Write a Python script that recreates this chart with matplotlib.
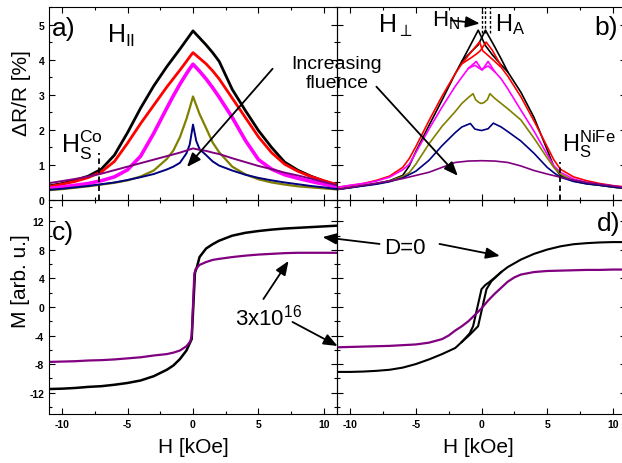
import matplotlib
matplotlib.use("Agg")
import matplotlib.pyplot as plt
from matplotlib.ticker import MultipleLocator

plt.rcParams["font.family"] = ["Liberation Sans", "DejaVu Sans"]
plt.rcParams["mathtext.fontset"] = "custom"
plt.rcParams["mathtext.rm"] = "Liberation Sans"
plt.rcParams["mathtext.it"] = "Liberation Sans:italic"
plt.rcParams["mathtext.bf"] = "Liberation Sans:bold"
plt.rcParams["axes.unicode_minus"] = False
plt.rcParams["lines.solid_joinstyle"] = "round"

# --- colours (Origin defaults) ---
BLACK, RED, MAGENTA = "#000000", "#ff0000", "#ff00ff"
OLIVE, NAVY, PURPLE = "#808000", "#000080", "#800080"

# --- a) MR, field parallel ---
xa = [-11, -10, -9, -8, -7, -6, -5, -4, -3, -2, -1.5, -1, -0.5, -0.25, 0,
      0.25, 0.5, 1, 1.5, 2, 3, 4, 5, 6, 7, 8, 9, 10, 11]
a_black = [0.40, 0.47, 0.56, 0.68, 0.88, 1.28, 1.92, 2.62, 3.25, 3.80, 4.05, 4.30, 4.56, 4.69, 4.82,
           4.72, 4.62, 4.42, 4.20, 3.95, 3.15, 2.55, 1.98, 1.50, 1.08, 0.85, 0.68, 0.54, 0.42]
a_red = [0.38, 0.45, 0.53, 0.64, 0.80, 1.10, 1.62, 2.18, 2.70, 3.22, 3.46, 3.70, 3.95, 4.08, 4.20,
         4.12, 4.04, 3.88, 3.68, 3.45, 2.90, 2.35, 1.80, 1.35, 1.02, 0.82, 0.67, 0.55, 0.44]
a_magenta = [0.33, 0.37, 0.42, 0.47, 0.55, 0.66, 0.86, 1.25, 1.90, 2.62, 2.97, 3.30, 3.60, 3.74, 3.87,
             3.77, 3.67, 3.45, 3.20, 2.93, 2.35, 1.70, 1.15, 0.88, 0.72, 0.62, 0.53, 0.45, 0.37]
a_olive = [0.28, 0.31, 0.35, 0.39, 0.44, 0.49, 0.56, 0.67, 0.84, 1.17, 1.41, 1.79, 2.31, 2.62, 2.95,
           2.70, 2.45, 2.05, 1.64, 1.36, 0.95, 0.73, 0.59, 0.50, 0.44, 0.39, 0.36, 0.33, 0.30]
a_navy = [0.29, 0.32, 0.36, 0.40, 0.45, 0.50, 0.57, 0.65, 0.74, 0.87, 0.95, 1.06, 1.33, 1.58, 2.15,
          1.68, 1.45, 1.28, 1.10, 0.98, 0.84, 0.72, 0.63, 0.56, 0.50, 0.45, 0.40, 0.36, 0.31]
a_purple = [0.48, 0.54, 0.60, 0.67, 0.75, 0.85, 0.95, 1.05, 1.15, 1.25, 1.30, 1.35, 1.41, 1.44, 1.47,
            1.45, 1.43, 1.40, 1.35, 1.31, 1.19, 1.08, 0.97, 0.88, 0.78, 0.70, 0.61, 0.51, 0.42]

# --- b) MR, field perpendicular (second sweep given only where it differs) ---
b_black_x = [-11, -10, -9, -8, -7, -6, -5.5, -5, -4, -3, -2, -1.5, -1, -0.25, 0.3, 0.8, 1.5, 2,
             3, 4, 5, 5.5, 6, 7, 8, 9, 10, 11]
b_black = [0.30, 0.35, 0.41, 0.47, 0.55, 0.70, 0.97, 1.38, 2.12, 2.85, 3.60, 3.95, 4.30, 4.84, 4.40, 4.15, 3.85, 3.65,
           3.07, 2.35, 1.43, 0.96, 0.70, 0.54, 0.47, 0.42, 0.37, 0.32]
b_black2_x = [-1.5, -0.8, -0.25, 0.3, 1, 1.5, 2]
b_black2 = [3.95, 4.22, 4.42, 4.84, 4.37, 4.02, 3.65]

b_red_x = [-11, -10, -9, -8, -7, -6, -5.5, -5, -4, -3, -2, -1.5, -1, -0.5, -0.15, 0.1, 0.35, 0.8,
           1.5, 2, 3, 4, 5, 5.5, 6, 7, 8, 9, 10, 11]
b_red = [0.36, 0.41, 0.47, 0.56, 0.68, 0.93, 1.18, 1.52, 2.26, 2.96, 3.60, 3.88, 4.12, 4.35, 4.50, 4.25, 4.17, 4.02,
         3.78, 3.53, 2.94, 2.25, 1.52, 1.15, 0.88, 0.66, 0.55, 0.47, 0.41, 0.37]
b_red2_x = [-1.5, -0.8, -0.35, -0.1, 0.35, 0.8, 1.5]
b_red2 = [3.88, 4.05, 4.17, 4.25, 4.50, 4.28, 3.82]

b_magenta_x = [-11, -10, -9, -8, -7, -6, -5.5, -5, -4, -3, -2, -1.5, -1, -0.4, 0, 0.5, 1, 1.5,
               2, 3, 4, 5, 5.5, 6, 7, 8, 9, 10, 11]
b_magenta = [0.36, 0.42, 0.47, 0.54, 0.65, 0.86, 1.02, 1.35, 2.02, 2.65, 3.24, 3.50, 3.75, 3.95, 3.72, 3.82, 3.66, 3.45,
             3.17, 2.56, 1.96, 1.30, 0.98, 0.79, 0.60, 0.50, 0.44, 0.40, 0.35]
b_magenta2_x = [-1, -0.5, 0.05, 0.5, 1]
b_magenta2 = [3.75, 3.84, 3.70, 3.95, 3.66]

b_olive_x = [-11, -10, -9, -8, -7, -6, -5.5, -5, -4, -3, -2, -1.5, -1, -0.64, -0.45, -0.2, 0,
             0.2, 0.45, 0.64, 1, 1.5, 2, 3, 4, 5, 5.5, 6, 7, 8, 9, 10, 11]
b_olive = [0.30, 0.36, 0.41, 0.46, 0.54, 0.67, 0.78, 1.02, 1.60, 2.10, 2.52, 2.75, 2.92, 3.03, 2.86, 2.78, 2.75,
           2.78, 2.86, 3.03, 2.90, 2.75, 2.60, 2.28, 1.76, 1.20, 0.93, 0.74, 0.55, 0.46, 0.42, 0.37, 0.32]

b_navy_x = [-11, -10, -9, -8, -7, -6, -5, -4, -3, -2, -1.5, -0.85, -0.5, 0, 0.5, 0.9, 1.5, 2,
            3, 4, 5, 5.5, 6, 7, 8, 9, 10, 11]
b_navy = [0.30, 0.35, 0.40, 0.45, 0.52, 0.63, 0.82, 1.13, 1.55, 1.92, 2.08, 2.18, 2.02, 1.98, 2.03, 2.19, 2.08, 1.95,
          1.68, 1.33, 0.93, 0.78, 0.65, 0.53, 0.46, 0.42, 0.37, 0.33]

b_purple_x = [-11, -10, -9, -8, -7, -6, -5, -4, -3, -2, -1, 0, 1, 2, 3, 4, 5, 6, 7, 8, 9, 10, 11]
b_purple = [0.30, 0.36, 0.42, 0.48, 0.54, 0.61, 0.70, 0.79, 0.93, 1.07, 1.11, 1.12, 1.11, 1.07, 0.97, 0.84, 0.74,
            0.65, 0.57, 0.50, 0.45, 0.40, 0.35]

# --- c) M(H), field parallel ---
c_x = [-11, -10, -9, -8, -7, -6, -5, -4, -3, -2, -1.5, -1, -0.5, -0.2, -0.1, 0.15, 0.3, 0.5,
       1, 1.5, 2, 3, 4, 5, 6, 7, 8, 9, 10, 11]
c_black = [-11.5, -11.45, -11.35, -11.2, -11.1, -10.9, -10.65, -10.3, -9.7, -8.8, -8.2, -7.3, -6.1, -4.9, -4.5,
           4.8, 5.6, 7.0, 8.2, 8.8, 9.3, 10.0, 10.4, 10.65, 10.85, 11.0, 11.1, 11.2, 11.3, 11.4]
c_purple_x = [-11, -10, -9, -8, -7, -6, -5, -4, -3, -2, -1.5, -1, -0.5, -0.2, -0.1, 0.1, 0.2, 0.5,
              1, 1.5, 2, 3, 4, 5, 6, 7, 8, 9, 10, 11]
c_purple = [-7.7, -7.65, -7.6, -7.5, -7.45, -7.35, -7.2, -7.05, -6.8, -6.6, -6.4, -6.1, -5.5, -4.8, -4.0,
            4.6, 5.3, 5.9, 6.3, 6.6, 6.75, 7.0, 7.2, 7.35, 7.45, 7.55, 7.6, 7.6, 7.6, 7.6]

# --- d) M(H), field perpendicular ---
d_black_x = [-11, -10, -9, -8, -7, -6, -5, -4, -3, -2, -1.5, -0.9, -0.64, 0, 0.3, 0.6, 1, 1.5,
             2, 3, 4, 5, 6, 7, 8, 9, 10, 11]
d_black = [-9.1, -9.1, -9.05, -8.95, -8.8, -8.5, -8.0, -7.35, -6.6, -5.75, -4.9, -3.7, -2.7, 2.5, 3.1, 3.5, 4.1, 4.9,
           5.6, 6.65, 7.45, 8.05, 8.5, 8.8, 8.95, 9.05, 9.1, 9.1]
d_black2_x = [-1.5, -0.9, -0.26, 0.38, 0.75, 1.5]
d_black2 = [-4.9, -3.9, -2.7, 2.5, 3.6, 4.9]
d_purple_x = [-11, -10, -9, -8, -7, -6, -5, -4, -3, -2.5, -2, -1.5, -1, -0.5, 0, 0.5, 1, 1.5,
              2, 2.5, 3, 4, 5, 6, 7, 8, 9, 10, 11]
d_purple = [-5.65, -5.6, -5.55, -5.5, -5.45, -5.35, -5.25, -5.0, -4.5, -4.0, -3.3, -2.7, -2.0, -1.1, -0.2, 0.9,
            1.85, 2.7, 3.55, 4.15, 4.55, 4.9, 5.05, 5.1, 5.15, 5.2, 5.2, 5.25, 5.25]

# saturation / switching fields marked with dashed lines
HS_CO, HS_NIFE = -7.15, 5.98
HN_LINES, HA_LINE = [0.0, 0.25], 0.63

W, H = 622, 464
fig = plt.figure(figsize=(W / 100, H / 100), dpi=100)
fig.patch.set_facecolor("white")


def add_axes_px(x0, y0, x1, y1):
    ax = fig.add_axes([x0 / W, 1 - y1 / H, (x1 - x0) / W, (y1 - y0) / H])
    ax.patch.set_visible(False)
    return ax


ax_a = add_axes_px(49, 8, 337, 201)
ax_b = add_axes_px(337, 8, 626, 201)
ax_c = add_axes_px(49, 201, 337, 415)
ax_d = add_axes_px(337, 201, 626, 415)

# a)
ax_a.plot(xa, a_black, color=BLACK, lw=2.0)
ax_a.plot(xa, a_red, color=RED, lw=2.0)
ax_a.plot(xa, a_magenta, color=MAGENTA, lw=2.6)
ax_a.plot(xa, a_olive, color=OLIVE, lw=1.6)
ax_a.plot(xa, a_navy, color=NAVY, lw=1.4)
ax_a.plot(xa, a_purple, color=PURPLE, lw=1.4)
ax_a.plot([HS_CO, HS_CO], [0, 1.35], color="k", lw=1.3, ls=(0, (3, 2)))

# b)
lw_b = 1.2
ax_b.plot(b_black_x, b_black, color=BLACK, lw=lw_b)
ax_b.plot(b_black2_x, b_black2, color=BLACK, lw=lw_b)
ax_b.plot(b_red_x, b_red, color=RED, lw=lw_b)
ax_b.plot(b_red2_x, b_red2, color=RED, lw=lw_b)
ax_b.plot(b_magenta_x, b_magenta, color=MAGENTA, lw=lw_b)
ax_b.plot(b_magenta2_x, b_magenta2, color=MAGENTA, lw=lw_b)
ax_b.plot(b_olive_x, b_olive, color=OLIVE, lw=lw_b)
ax_b.plot(b_navy_x, b_navy, color=NAVY, lw=lw_b)
ax_b.plot(b_purple_x, b_purple, color=PURPLE, lw=lw_b)
ax_b.plot([HS_NIFE, HS_NIFE], [0, 1.08], color="k", lw=1.3, ls=(0, (3, 2)))
for xv in HN_LINES + [HA_LINE]:
    ax_b.plot([xv, xv], [4.75, 5.5], color="k", lw=1.0, ls=(0, (2, 1.5)))

# c)
ax_c.plot(c_x, c_black, color=BLACK, lw=1.8)
ax_c.plot(c_purple_x, c_purple, color=PURPLE, lw=1.6)

# d)
ax_d.plot(d_black_x, d_black, color=BLACK, lw=1.5)
ax_d.plot(d_black2_x, d_black2, color=BLACK, lw=1.5)
ax_d.plot(d_purple_x, d_purple, color=PURPLE, lw=1.6)

# --- axes styling ---
for ax in (ax_a, ax_b, ax_c, ax_d):
    ax.set_xlim(-11, 11)
    ax.xaxis.set_major_locator(MultipleLocator(5))
    ax.xaxis.set_minor_locator(MultipleLocator(2.5))
    ax.tick_params(which="both", direction="in", top=True, right=True,
                   labelsize=7.5, width=0.8)
    ax.tick_params(which="major", length=4)
    ax.tick_params(which="minor", length=2.5)
    for sp in ax.spines.values():
        sp.set_linewidth(0.8)

for ax in (ax_a, ax_b):
    ax.set_ylim(0, 5.5)
    ax.yaxis.set_major_locator(MultipleLocator(1))
    ax.yaxis.set_minor_locator(MultipleLocator(0.5))
    ax.tick_params(labelbottom=False)

for ax in (ax_c, ax_d):
    ax.set_ylim(-15, 15)
    ax.yaxis.set_major_locator(MultipleLocator(4))
    ax.yaxis.set_minor_locator(MultipleLocator(2))

for ax in (ax_b, ax_d):
    ax.tick_params(labelleft=False)

for ax in (ax_a, ax_b, ax_c, ax_d):
    plt.setp(ax.get_xticklabels() + ax.get_yticklabels(), fontweight="bold")

ax_a.set_ylabel("ΔR/R [%]", fontsize=15, va="center")
ax_a.yaxis.set_label_coords(-0.094, 0.557)
ax_c.set_ylabel("M [arb. u.]", fontsize=15, va="center")
ax_c.yaxis.set_label_coords(-0.10, 0.626)
ax_c.set_xlabel("H [kOe]", fontsize=15, va="center")
ax_c.xaxis.set_label_coords(0.5, -0.15)
ax_d.set_xlabel("H [kOe]", fontsize=15, va="center")
ax_d.xaxis.set_label_coords(0.49, -0.15)

# --- labels and annotations ---
ax_a.text(-10.77, 4.89, "a)", fontsize=19, ha="left", va="center")
ax_a.text(-6.6, 4.51, r"$\mathrm{H}_{\mathrm{II}}$", fontsize=18, ha="left", va="baseline")
ax_a.text(-10.1, 1.37, r"$\mathrm{H}_{\mathrm{S}}^{\mathrm{Co}}$", fontsize=18, ha="left", va="baseline")
fig.text(337 / W, 1 - 74 / H, "Increasing\nfluence", fontsize=14, ha="center", va="center",
         linespacing=1.1)

ax_b.text(10.34, 4.94, "b)", fontsize=19, ha="right", va="center")
ax_b.text(-7.9, 4.8, r"$\mathrm{H}_{\perp}$", fontsize=18, ha="left", va="baseline")
ax_b.text(-3.8, 4.97, r"$\mathrm{H}_{\mathrm{N}}$", fontsize=16, ha="left", va="baseline")
ax_b.text(1.0, 4.83, r"$\mathrm{H}_{\mathrm{A}}$", fontsize=17, ha="left", va="baseline")
ax_b.text(6.1, 1.41, r"$\mathrm{H}_{\mathrm{S}}^{\mathrm{NiFe}}$", fontsize=17, ha="left", va="baseline")

ax_c.text(-10.77, 10.5, "c)", fontsize=19, ha="left", va="center")
ax_d.text(10.56, 11.8, "d)", fontsize=19, ha="right", va="center")
ax_c.text(5.77, -1.4, r"3x10$^{16}$", fontsize=16, ha="center", va="center")
ax_d.text(-5.8, 8.4, "D=0", fontsize=16, ha="center", va="center")

arrow = dict(arrowstyle="-|>,head_length=0.7,head_width=0.28", color="k", lw=1.3,
             mutation_scale=12, shrinkA=0, shrinkB=0)

ax_a.annotate("", xy=(-0.46, 0.94), xytext=(6.08, 3.74), arrowprops=arrow)
ax_b.annotate("", xy=(-1.8, 0.69), xytext=(-8.0, 3.23), arrowprops=arrow)
ax_b.annotate("", xy=(-0.13, 5.03), xytext=(-2.3, 5.12), arrowprops=arrow)

ax_d.annotate("", xy=(9.9, 9.8), xycoords=ax_c.transData, xytext=(-7.76, 8.84),
              textcoords=ax_d.transData, arrowprops=arrow)
ax_d.annotate("", xy=(1.4, 7.16), xytext=(-3.2, 8.84), arrowprops=arrow)
ax_c.annotate("", xy=(7.3, 6.46), xytext=(5.38, 1.12), arrowprops=arrow)
ax_c.annotate("", xy=(11.05, -5.47), xytext=(7.6, -2.1), arrowprops=arrow,
              annotation_clip=False)

fig.savefig("out.png", dpi=100)
